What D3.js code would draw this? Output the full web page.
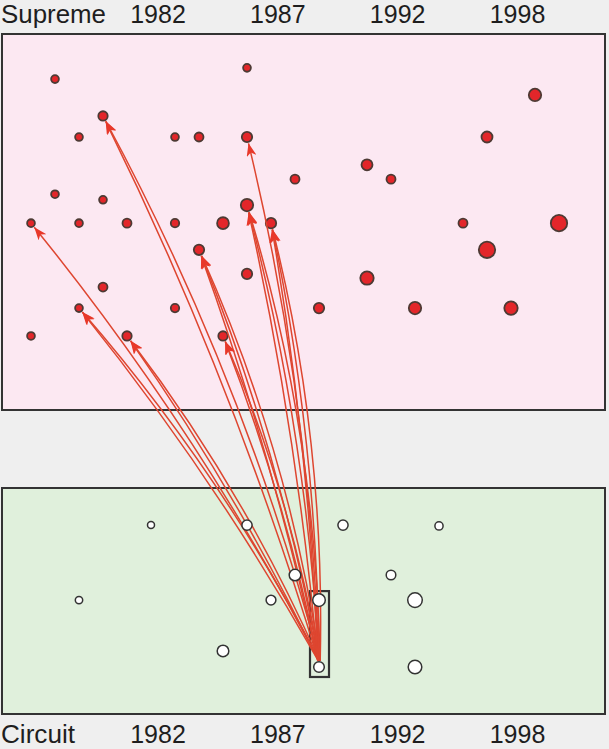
<!DOCTYPE html>
<html>
<head>
<meta charset="utf-8">
<script src="https://cdn.jsdelivr.net/npm/d3@7"></script>
<style>
  html, body { margin: 0; padding: 0; background: #efefef; }
  svg { display: block; }
</style>
</head>
<body>
<svg id="chart" width="609" height="749"></svg>
<script>
// ---------------- DATA ----------------
const tickLabels = ["1982", "1987", "1992", "1998"];

// Supreme court decisions (year, vertical score 0-100, size)
const supremeYear  = [1978,1986,1998,1980,1979,1983,1984,1986,1996,1991,1988,1992,1978,1980,1986,
                      1977,1979,1981,1983,1985,1987,1995,1999,1984,1996,1986,1991,1980,
                      1979,1983,1989,1993,1997,1977,1981,1985];
const supremeScore = [88.0,91.0,83.8,78.2,72.6,72.6,72.6,72.6,72.6,65.2,61.4,61.4,57.4,55.9,54.5,
                      49.7,49.7,49.7,49.7,49.7,49.7,49.7,49.7,42.6,42.6,36.2,35.1,32.7,
                      27.1,27.1,27.1,27.1,27.1,19.7,19.7,19.7];
const supremeSize  = [4.7,4.7,7.0,5.5,4.7,4.7,5.3,6.0,6.3,6.3,5.3,5.3,4.7,4.7,7.0,
                      4.7,4.7,5.3,5.0,6.7,6.0,5.3,9.0,6.0,9.0,6.0,7.5,5.3,
                      4.7,5.0,6.0,7.0,7.5,4.7,5.5,5.5];

// Circuit court decisions
const circuitYear  = [1982,1986,1990,1994,1988,1992,1979,1987,1989,1993,1985,1989,1993];
const circuitScore = [83.6,83.6,83.6,83.2,61.5,61.5,50.4,50.4,50.4,50.4,27.9,20.8,20.8];
const circuitSize  = [4.2,5.8,5.8,4.8,6.5,5.5,4.4,5.6,7.0,8.0,6.5,6.0,7.5];

// Highlighted circuit cases (indices into circuit arrays)
const selectedCircuit = [8, 11];
const citingSource = 11;

// Citations from the selected circuit case to supreme cases
const citeYear  = [1977,1979,1981,1980,1984,1985,1986,1986,1987];
const citeScore = [49.7,27.1,19.7,78.2,42.6,19.7,72.6,54.5,49.7];
const citeCount = [1,2,2,2,3,2,1,3,3];

// ---------------- LAYOUT ----------------
const svg = d3.select("#chart");
const supPanel = {x: 2, y: 34, w: 603, h: 376};
const cirPanel = {x: 2, y: 488, w: 603, h: 226};

const x = d3.scaleLinear().domain([1977, 1999]).range([31, 559]);
const ySup = d3.scaleLinear().domain([0, 100]).range([supPanel.y + supPanel.h, supPanel.y]);
const yCir = d3.scaleLinear().domain([0, 100]).range([cirPanel.y + cirPanel.h, cirPanel.y]);
const xLabel = d3.scalePoint().domain(tickLabels).range([158, 517.5]);

const font = "'Liberation Sans', Arial, Helvetica, sans-serif";

// Panels
svg.append("rect")
  .attr("x", supPanel.x).attr("y", supPanel.y)
  .attr("width", supPanel.w).attr("height", supPanel.h)
  .attr("fill", "#fce8f2").attr("stroke", "#333").attr("stroke-width", 2);
svg.append("rect")
  .attr("x", cirPanel.x).attr("y", cirPanel.y)
  .attr("width", cirPanel.w).attr("height", cirPanel.h)
  .attr("fill", "#e0f0dc").attr("stroke", "#333").attr("stroke-width", 2);

// Labels
function labelRow(title, baseline, len) {
  const g = svg.append("g").attr("font-family", font).attr("font-size", 25).attr("fill", "#1e1e1e");
  const t = g.append("text").attr("x", 1).attr("y", baseline).text(title);
  if (len) t.attr("textLength", len).attr("lengthAdjust", "spacingAndGlyphs");
  g.selectAll("text.tick").data(tickLabels).join("text")
    .attr("class", "tick")
    .attr("x", d => xLabel(d)).attr("y", baseline)
    .attr("text-anchor", "middle").text(d => d);
}
labelRow("Supreme", 23, 105);
labelRow("Circuit", 743, 74);

// Selection box around chosen circuit cases
const selX = x(circuitYear[selectedCircuit[0]]);
const selTop = yCir(d3.max(selectedCircuit, i => circuitScore[i]));
const selBot = yCir(d3.min(selectedCircuit, i => circuitScore[i]));
svg.append("rect")
  .attr("x", selX - 9).attr("y", selTop - 9)
  .attr("width", 19).attr("height", selBot - selTop + 19)
  .attr("fill", "none").attr("stroke", "#333").attr("stroke-width", 2.2);

// Supreme dots
const supIdx = d3.range(supremeYear.length);
svg.append("g").selectAll("circle").data(supIdx).join("circle")
  .attr("cx", i => x(supremeYear[i]))
  .attr("cy", i => ySup(supremeScore[i]))
  .attr("r", i => supremeSize[i] - 0.8)
  .attr("fill", "#e3262a")
  .attr("stroke", "#4d3a34")
  .attr("stroke-width", 1.8);

// Arrow marker
const defs = svg.append("defs");
defs.append("marker")
  .attr("id", "arrow")
  .attr("viewBox", "0 -5 13 10")
  .attr("refX", 13).attr("refY", 0)
  .attr("markerWidth", 13).attr("markerHeight", 10)
  .attr("markerUnits", "userSpaceOnUse")
  .attr("orient", "auto")
  .append("path")
  .attr("d", "M0,-5L13,0L0,5L3.5,0Z")
  .attr("fill", "#e8382a");

// Citation curves
const sx = x(circuitYear[citingSource]);
const sy = yCir(circuitScore[citingSource]);
const links = [];
citeYear.forEach((yr, t) => {
  const tx = x(yr), ty = ySup(citeScore[t]);
  const si = supIdx.find(i => supremeYear[i] === yr && supremeScore[i] === citeScore[t]);
  const r = supremeSize[si] + 0.5;
  const n = citeCount[t];
  for (let j = 0; j < n; j++) {
    const k = 0.05 + (j - (n - 1) / 2) * 0.018;
    const ox = (j - (n - 1) / 2) * 1.2;
    const s0x = sx + ox, s0y = sy - 6;
    const dx = tx - s0x, dy = ty - s0y;
    const cx = (s0x + tx) / 2 - dy * k;
    const cy = (s0y + ty) / 2 + dx * k;
    const ex = tx - cx, ey = ty - cy;
    const el = Math.hypot(ex, ey);
    links.push({s0x, s0y, cx, cy, endX: tx - r * ex / el, endY: ty - r * ey / el});
  }
});
svg.append("g").selectAll("path").data(links).join("path")
  .attr("d", d => {
    const p = d3.path();
    p.moveTo(d.s0x, d.s0y);
    p.quadraticCurveTo(d.cx, d.cy, d.endX, d.endY);
    return p.toString();
  })
  .attr("fill", "none")
  .attr("stroke", "#de4630")
  .attr("stroke-width", 1.5)
  .attr("marker-end", "url(#arrow)");

// Circuit dots
const cirIdx = d3.range(circuitYear.length);
svg.append("g").selectAll("circle").data(cirIdx).join("circle")
  .attr("cx", i => x(circuitYear[i]))
  .attr("cy", i => yCir(circuitScore[i]))
  .attr("r", i => circuitSize[i] - 0.7)
  .attr("fill", "#ffffff")
  .attr("stroke", "#333")
  .attr("stroke-width", 1.5);
</script>
</body>
</html>
